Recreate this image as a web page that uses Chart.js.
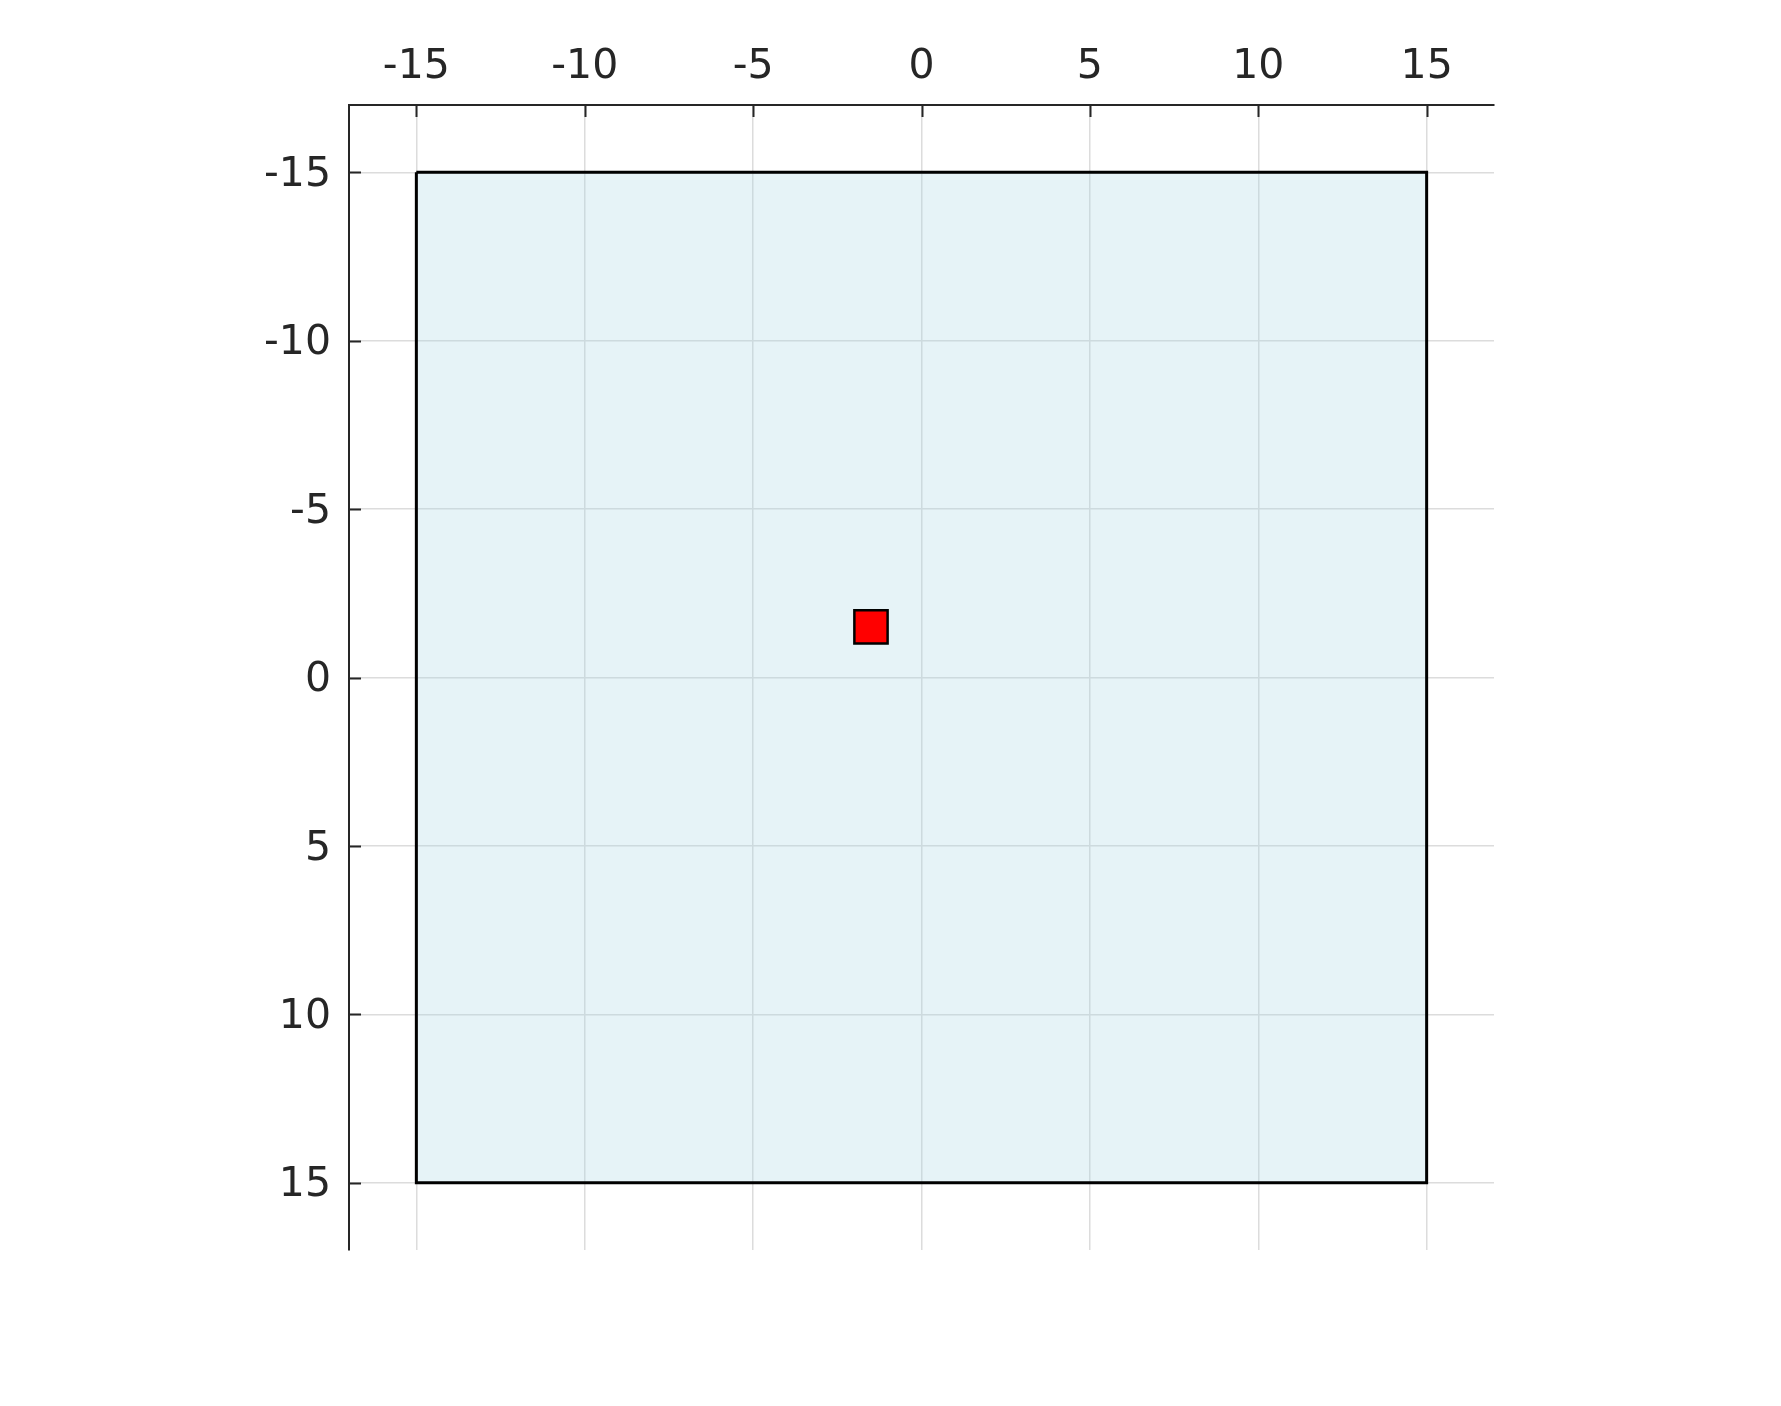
<!DOCTYPE html>
<html>
<head>
<meta charset="utf-8">
<script src="https://cdn.jsdelivr.net/npm/chart.js@4/dist/chart.umd.min.js"></script>
<style>
  html, body { margin: 0; padding: 0; background: #ffffff; }
  canvas { display: block; }
</style>
</head>
<body>
<canvas id="chart" width="1781" height="1406"></canvas>
<script>
// axis limits and ticks
const xLimits = [-17, 17];
const yLimits = [-17, 17];
const xTicks = [-15, -10, -5, 0, 5, 10, 15];
const yTicks = [-15, -10, -5, 0, 5, 10, 15];

// outline of the shaded region (closed)
const regionX = [-15, 15, 15, -15, -15];
const regionY = [-15, -15, 15, 15, -15];

// marker position
const markerX = [-1.5];
const markerY = [-1.5];

const AXIS_COLOR = '#262626';
const GRID_COLOR = '#dcdcdc';

// MATLAB style ticks pointing into the axes
const inwardTicks = {
    id: 'inwardTicks',
    afterDraw(chart) {
        const ctx = chart.ctx;
        const area = chart.chartArea;
        const xs = chart.scales.x;
        const ys = chart.scales.y;
        const len = 12;
        ctx.save();
        ctx.strokeStyle = AXIS_COLOR;
        ctx.lineWidth = 2;
        ctx.beginPath();
        xTicks.forEach(v => {
            const px = Math.round(xs.getPixelForValue(v)) + 0.5;
            ctx.moveTo(px, area.top);
            ctx.lineTo(px, area.top + len);
        });
        yTicks.forEach(v => {
            const py = Math.round(ys.getPixelForValue(v)) + 0.5;
            ctx.moveTo(area.left, py);
            ctx.lineTo(area.left + len, py);
        });
        ctx.stroke();
        ctx.restore();
    }
};

const toPoints = (xs, ys) => xs.map((x, i) => ({ x: x, y: ys[i] }));

new Chart(document.getElementById('chart'), {
    type: 'scatter',
    data: {
        datasets: [
            {
                data: toPoints(markerX, markerY),
                pointStyle: 'rect',
                pointRadius: 23.5,
                pointHoverRadius: 23.5,
                backgroundColor: '#ff0000',
                borderColor: '#000000',
                borderWidth: 2.5,
                showLine: false
            },
            {
                data: toPoints(regionX, regionY),
                showLine: true,
                fill: 'shape',
                backgroundColor: 'rgba(173, 216, 230, 0.3)',
                borderColor: '#000000',
                borderWidth: 3,
                pointRadius: 0,
                tension: 0
            }
        ]
    },
    options: {
        responsive: false,
        devicePixelRatio: 1,
        animation: false,
        layout: {
            padding: { left: 0, top: 0, right: 287, bottom: 156 }
        },
        plugins: {
            legend: { display: false },
            tooltip: { enabled: false }
        },
        scales: {
            x: {
                type: 'linear',
                position: 'top',
                min: xLimits[0],
                max: xLimits[1],
                afterBuildTicks: scale => { scale.ticks = xTicks.map(v => ({ value: v })); },
                afterFit: scale => { scale.height = 105; },
                grid: { color: GRID_COLOR, lineWidth: 1.5, drawTicks: false },
                border: { display: true, color: AXIS_COLOR, width: 2 },
                ticks: {
                    color: AXIS_COLOR,
                    padding: 13,
                    maxRotation: 0,
                    font: { family: 'DejaVu Sans', size: 41 }
                }
            },
            y: {
                type: 'linear',
                position: 'left',
                reverse: true,
                min: yLimits[0],
                max: yLimits[1],
                afterBuildTicks: scale => { scale.ticks = yTicks.map(v => ({ value: v })); },
                afterFit: scale => { scale.width = 349; },
                grid: { color: GRID_COLOR, lineWidth: 1.5, drawTicks: false },
                border: { display: true, color: AXIS_COLOR, width: 2 },
                ticks: {
                    color: AXIS_COLOR,
                    padding: 18,
                    labelOffset: 3,
                    font: { family: 'DejaVu Sans', size: 41 }
                }
            }
        }
    },
    plugins: [inwardTicks]
});
</script>
</body>
</html>
